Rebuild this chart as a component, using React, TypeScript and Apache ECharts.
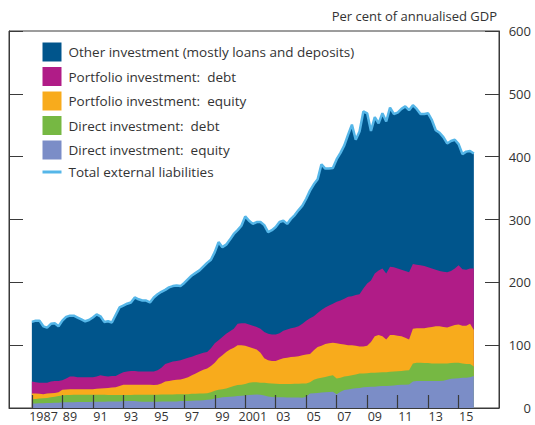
import React, { useEffect, useRef } from 'react';
import * as echarts from 'echarts';

// Quarterly data, 1987 Q1 onwards, per cent of annualised GDP
const START_YEAR = 1987;

const directEquity = [
  7, 7, 7.5, 7.5, 8, 8, 8.5, 8.5, 9, 9,
  9, 9, 9.5, 9.5, 9.5, 9.5, 10, 10, 10, 10,
  10.5, 10.5, 10.5, 10.5, 11, 11, 11, 11, 10.5, 10,
  10, 10, 10, 10, 10.5, 10.5, 10.5, 10.5, 10.5, 11,
  11, 11, 11.5, 12, 12, 12.5, 13, 13.5, 15, 16,
  17, 17.5, 18, 18.5, 19, 19.5, 20, 20.5, 21, 21.5,
  21, 20, 18.5, 17.5, 17, 17, 17, 16.8, 16.8, 16.7,
  16.7, 16.5, 18, 23, 23.5, 24, 24.5, 25, 25.5, 26,
  22, 26, 28.5, 29.5, 30.5, 31.5, 32, 33, 33.5, 34,
  34, 34.5, 35, 35, 35.5, 36, 36.5, 37, 37, 37.5,
  42, 43, 43, 43, 43, 43, 43, 43, 43.5, 45,
  46.5, 47, 47.5, 48, 48, 49, 51,
];

const directDebt = [
  7, 7.5, 7.5, 8, 8, 9, 9.5, 10.5, 11, 11.5,
  11.5, 12, 11.5, 11.5, 11.5, 11.5, 11, 11, 11, 11,
  10, 10, 10, 10, 9.5, 9.5, 9.5, 10, 10.5, 11,
  11, 11, 11, 11, 11, 11, 11, 11, 11.2, 11,
  11, 11, 11, 10.5, 11, 10.5, 10.3, 11.5, 12.5, 13,
  13, 13.5, 15, 16.5, 17.5, 17.5, 18, 19.5, 20, 19.5,
  19, 20, 21, 21.5, 21.5, 21, 21, 21.2, 21.2, 21.8,
  21.8, 22.5, 21, 18, 21.5, 23, 23.5, 24.5, 25.5, 26,
  25, 22, 21.5, 21.5, 21.5, 22, 23, 22, 22, 22,
  22, 22, 22, 22, 22, 22, 22, 22, 22.5, 22.5,
  29, 29, 29, 28.5, 28.5, 28, 28, 28, 27.5, 26,
  25, 25, 24.5, 23, 22, 21, 15,
];

const portfolioEquity = [
  9, 8.5, 7.5, 6.5, 7, 6.5, 6, 6, 9, 9,
  9.5, 9, 9, 9, 9, 9, 9, 9.5, 10, 10.5,
  11.5, 12, 12.5, 14.5, 16.5, 16.5, 16.5, 16, 16, 16,
  16, 16, 15.5, 16, 17.5, 20.5, 21.5, 22.5, 23.3, 23.5,
  25, 27, 29.5, 32.5, 35, 38, 39.7, 42, 44.5, 50,
  54, 58, 60, 61, 63.5, 63, 61, 57, 54, 52,
  48, 39, 36.5, 36, 36.5, 39, 41, 42, 43, 43,
  44, 45, 46, 45, 47, 50, 51, 52.5, 52, 52,
  56, 54, 51, 49, 48, 45.5, 43, 43, 43.5, 49,
  58, 59.5, 57, 52, 58.5, 58, 56.5, 55, 52.5, 49,
  55, 55, 55, 55.5, 56.5, 58, 59, 59, 58, 57,
  58.5, 60, 61, 60, 61, 64, 58,
];

const portfolioDebt = [
  19, 18, 17.5, 18, 17, 18.5, 19, 18, 15, 17.5,
  20, 20, 19, 19, 19, 19, 19, 19.5, 21, 19.5,
  18, 18.5, 18, 19, 20, 21, 22, 22, 21, 21,
  21, 21, 21.5, 23, 25, 28, 29, 30, 30, 30.5,
  31, 31, 29.5, 29, 28, 27, 26, 28, 31, 29,
  29, 29, 29, 30, 34, 35, 36, 36, 36, 36,
  38, 42, 42, 42, 42, 42, 44, 45, 46, 46.5,
  47.5, 50, 54, 57, 54, 54, 57, 58, 60, 62,
  66, 69, 73, 77, 78, 81, 83, 92, 99, 98,
  100, 103, 108, 105, 109, 108, 107, 106, 106, 107,
  103, 101, 100, 99, 96, 93, 90, 88, 88, 88,
  88, 90, 94, 90, 89, 88, 98,
];

const otherInvestment = [
  95, 98, 99, 90, 88, 92, 92, 87, 95, 98,
  97, 97, 95, 92, 89, 91, 95, 99, 94, 86,
  88, 85, 97, 106, 106, 108, 109, 117, 115, 113,
  113, 110, 118, 121, 121, 118, 120, 120, 120, 118,
  121, 125, 129.5, 131, 133, 137, 142, 141, 145, 156,
  143, 142, 146, 151, 149, 155, 170, 165, 162, 167,
  170, 170, 162, 166, 171, 177, 175, 168, 174, 179,
  185, 188, 194, 203, 210, 213, 232, 221, 218, 216,
  227, 235, 244, 258, 273, 247, 259, 282, 271, 238,
  249, 234, 247, 242, 253, 244, 248, 256, 262, 258,
  253, 248, 241, 242, 245, 236, 222, 220, 214, 205,
  207, 205, 193, 183, 188, 187, 183,
];

const seriesNames = [
  'Direct investment:  equity',
  'Direct investment:  debt',
  'Portfolio investment:  equity',
  'Portfolio investment:  debt',
  'Other investment (mostly loans and deposits)',
];
const totalName = 'Total external liabilities';
const seriesColors = ['#7b8dc7', '#76b843', '#f8ab1c', '#b01c87', '#00558c'];
const totalColor = '#55b6e8';

const xTickYears = [1987, 1989, 1991, 1993, 1995, 1997, 1999, 2001, 2003, 2005, 2007, 2009, 2011, 2013, 2015];
const yTicks = [0, 100, 200, 300, 400, 500, 600];

const FONT = 'Open Sans';

export default function App() {
  const ref = useRef<HTMLDivElement>(null);

  useEffect(() => {
    const chart = echarts.init(ref.current as HTMLDivElement, null, { renderer: 'svg' });
    const comps = [directEquity, directDebt, portfolioEquity, portfolioDebt, otherInvestment];
    const quarters = directEquity.map((_, i) => START_YEAR + i / 4);
    // cumulative stack tops (each layer filled down to zero, drawn top layer first)
    const cumulative = comps.map((_, k) =>
      quarters.map((__, i) => comps.slice(0, k + 1).reduce((s, a) => s + a[i], 0))
    );
    const total = cumulative[comps.length - 1];
    const pairs = (arr: number[]) => arr.map((v, i) => [quarters[i], v]);

    const areaSeries = comps
      .map((_, k) => ({
        name: seriesNames[k],
        type: 'line',
        symbol: 'none',
        showSymbol: false,
        color: seriesColors[k],
        lineStyle: { width: 0, color: seriesColors[k] },
        areaStyle: { color: seriesColors[k], opacity: 1, origin: 'start' },
        data: pairs(cumulative[k]),
        z: 2,
      }))
      .reverse();

    const yAxisCommon = {
      type: 'value',
      min: yTicks[0],
      max: yTicks[yTicks.length - 1],
      interval: 100,
      z: 10,
      splitLine: { show: false },
      axisLine: { show: true, lineStyle: { color: '#3a3a3a', width: 1 } },
      axisTick: { show: true, inside: true, length: 14, lineStyle: { color: '#3a3a3a', width: 1 } },
    };

    chart.setOption({
      animation: false,
      backgroundColor: '#ffffff',
      grid: {
        left: 9,
        right: 36,
        top: 31,
        bottom: 17,
        show: true,
        borderColor: '#3a3a3a',
        borderWidth: 1,
        backgroundColor: 'transparent',
      },
      legend: {
        orient: 'vertical',
        left: 37.5,
        top: 37.5,
        itemWidth: 19,
        itemHeight: 19,
        itemGap: 5.5,
        selectedMode: false,
        textStyle: { fontFamily: FONT, fontSize: 13.5, color: '#333333', padding: [0, 0, 0, 2] },
        data: [
          { name: seriesNames[4], icon: 'rect' },
          { name: seriesNames[3], icon: 'rect' },
          { name: seriesNames[2], icon: 'rect' },
          { name: seriesNames[1], icon: 'rect' },
          { name: seriesNames[0], icon: 'rect' },
          {
            name: totalName,
            icon: 'path://M0,0L19,0L19,3L0,3Z',
            itemStyle: { color: totalColor },
          },
        ],
      },
      xAxis: {
        type: 'value',
        min: 1985.5,
        max: 2017.65,
        z: 10,
        splitLine: { show: false },
        axisLine: { show: true, lineStyle: { color: '#3a3a3a', width: 1 } },
        axisTick: {
          show: true,
          inside: true,
          length: 13,
          customValues: xTickYears,
          lineStyle: { color: '#3a3a3a', width: 1.2 },
        },
        axisLabel: {
          show: true,
          customValues: xTickYears.map((y) => y + 0.5),
          margin: 2,
          fontFamily: FONT,
          fontSize: 12.5,
          color: '#333333',
          formatter: (v: number) => {
            const y = Math.floor(v);
            if (y === 1987) return '{first|1987}';
            if (y === 2001) return '2001';
            return String(y % 100).padStart(2, '0');
          },
          rich: {
            first: { fontFamily: FONT, fontSize: 12.5, color: '#333333', padding: [0, 0, 0, 8] },
          },
        },
      },
      yAxis: [
        {
          ...yAxisCommon,
          position: 'right',
          axisLabel: {
            show: true,
            inside: false,
            align: 'right',
            margin: 32,
            fontFamily: FONT,
            fontSize: 13,
            color: '#333333',
          },
        },
        {
          ...yAxisCommon,
          position: 'left',
          axisLabel: { show: false },
        },
      ],
      graphic: [
        {
          type: 'text',
          right: 38,
          top: 9,
          style: {
            text: 'Per cent of annualised GDP',
            font: `13px "${FONT}"`,
            fill: '#333333',
          },
        },
      ],
      series: [
        ...areaSeries,
        {
          name: totalName,
          type: 'line',
          symbol: 'none',
          showSymbol: false,
          color: totalColor,
          lineStyle: { width: 2.5, color: totalColor },
          data: pairs(total),
          z: 3,
        },
      ],
    });

    return () => {
      chart.dispose();
    };
  }, []);

  return (
    <div
      ref={ref}
      style={{ position: 'fixed', left: 0, top: 0, width: 535, height: 425 }}
    />
  );
}
